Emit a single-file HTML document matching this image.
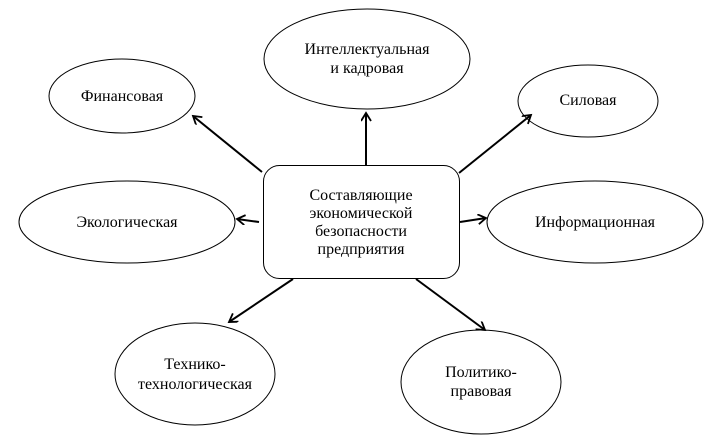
<!DOCTYPE html>
<html><head><meta charset="utf-8"><style>
body{margin:0;background:#fff}
</style></head><body>
<svg width="727" height="436" viewBox="0 0 727 436">
<defs><marker id="a" markerWidth="12" markerHeight="12" refX="9" refY="5" orient="auto" markerUnits="userSpaceOnUse"><path d="M1,0 L9,5 L1,10" fill="none" stroke="#000" stroke-width="1.8"/></marker></defs>
<g fill="none" stroke="#000" stroke-width="1">
<ellipse cx="122" cy="96" rx="73" ry="37"/>
<ellipse cx="367" cy="59" rx="103" ry="50"/>
<ellipse cx="588" cy="101" rx="70" ry="36"/>
<ellipse cx="127" cy="222" rx="108" ry="41"/>
<ellipse cx="595" cy="222" rx="108" ry="41"/>
<ellipse cx="195" cy="374" rx="80" ry="51"/>
<ellipse cx="481" cy="382" rx="80" ry="52"/>
<rect x="263.5" y="165.5" width="196" height="113" rx="16"/>
</g>
<g stroke="#000" stroke-width="2" marker-end="url(#a)">
<line x1="262" y1="172" x2="193" y2="116"/>
<line x1="366" y1="165" x2="366" y2="113"/>
<line x1="459" y1="173" x2="531" y2="115"/>
<line x1="259" y1="222" x2="237" y2="219"/>
<line x1="460" y1="222" x2="486" y2="218"/>
<line x1="293" y1="279" x2="229" y2="322"/>
<line x1="416" y1="279" x2="485" y2="330"/>
</g>
<g font-family="Liberation Serif, Times New Roman, DejaVu Serif, serif" font-size="16" text-anchor="middle" fill="#000">
<text x="122" y="101">Финансовая</text>
<text x="367" y="54">Интеллектуальная</text>
<text x="367" y="73">и кадровая</text>
<text x="588" y="105">Силовая</text>
<text x="127" y="227">Экологическая</text>
<text x="595" y="227">Информационная</text>
<text x="195" y="369">Технико-</text>
<text x="195" y="389">технологическая</text>
<text x="481" y="377">Политико-</text>
<text x="481" y="396">правовая</text>
<text x="361" y="200">Составляющие</text>
<text x="361" y="218">экономической</text>
<text x="361" y="236">безопасности</text>
<text x="361" y="254">предприятия</text>
</g>
</svg>
</body></html>
